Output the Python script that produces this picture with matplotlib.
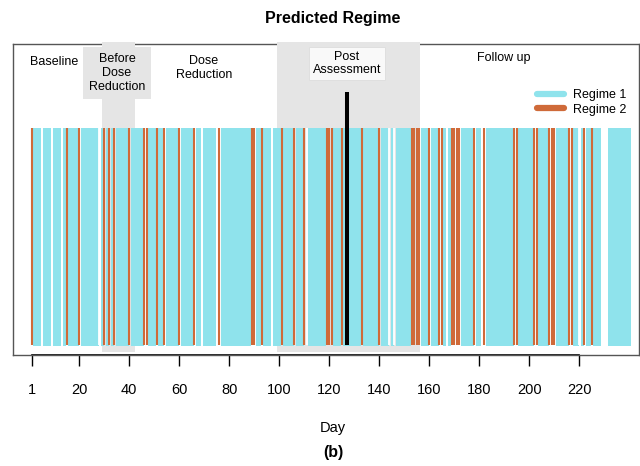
import numpy as np
import matplotlib
matplotlib.use('Agg')
import matplotlib.pyplot as plt
from matplotlib.lines import Line2D

# days 1..240, regime 1 by default
n_days = 240
regime2_days = [1, 15, 20, 30, 32, 34, 40, 46, 47, 51, 54, 60, 66, 76, 89, 90, 93,
                101, 106, 110, 119, 120, 121, 125, 133, 140, 153, 154, 155, 156,
                160, 164, 165, 169, 170, 171, 172, 178, 182, 194, 195, 202, 203,
                208, 209, 210, 216, 217, 222, 225]
missing_days = [5, 9, 13, 28, 69, 75, 97, 111, 144, 146, 167, 181, 220, 229, 230, 231]
assessment_day = 127

phase_names = ['Baseline', 'Before\nDose\nReduction', 'Dose\nReduction',
               'Post\nAssessment', 'Follow up']
shaded_phases = [(29.1, 42.3), (99.1, 156.3)]
tick_days = [1] + list(range(20, 221, 20))

c1 = '#8FE3EC'
c2 = '#CF6A39'
shade = '#E5E5E5'

plt.rcParams['font.family'] = ['Liberation Sans', 'DejaVu Sans']

def main():
    days = np.arange(1, n_days + 1)
    r1 = [d for d in days if d not in regime2_days and d not in missing_days]
    r2 = [d for d in days if d in regime2_days and d not in missing_days]

    fig = plt.figure(figsize=(6.4, 4.66), dpi=100)
    ax = fig.add_axes([12.7/640, 1 - 355/466, 626.3/640, 311/466])
    ax.set_xlim(-6.6, 1 + (639 - 31.7) / 2.5)
    ax.set_ylim(0, 1)

    for a, b in shaded_phases:
        ax.axvspan(a, b, ymin=0.0096, ymax=1.006, color=shade, lw=0, clip_on=False, zorder=3)

    ax.vlines(r1, 0.032, 0.730, colors=c1, linewidth=2.0, capstyle='butt',
              antialiased=False, zorder=4)
    ax.vlines(r2, 0.032, 0.730, colors=c2, linewidth=1.5, capstyle='butt', zorder=4.2)
    ax.vlines(missing_days, 0.032, 0.730, colors='white', linewidth=1.3, capstyle='butt', zorder=4.1)
    ax.vlines(assessment_day, 0.032, 0.846, colors='black', linewidth=2.9, zorder=5)

    # phase labels
    ax.text(10.1, 0.943, phase_names[0], ha='center', va='center', fontsize=9, zorder=6)
    ax.text(35.1, 0.907, phase_names[1], ha='center', va='center', fontsize=9, zorder=6,
            linespacing=1.25, bbox=dict(boxstyle='square,pad=0.45', fc=shade, ec='none'))
    ax.text(69.9, 0.924, phase_names[2], ha='center', va='center', fontsize=9, zorder=6,
            linespacing=1.2)
    ax.text(127.1, 0.937, phase_names[3], ha='center', va='center', fontsize=9, zorder=6,
            linespacing=1.2, bbox=dict(boxstyle='square,pad=0.3', fc='#F9F9F9', ec='#DDDDDD', lw=0.6))
    ax.text(189.9, 0.955, phase_names[4], ha='center', va='center', fontsize=9, zorder=6)

    handles = [Line2D([], [], color=c1, lw=4.5, solid_capstyle='round'),
               Line2D([], [], color=c2, lw=4.5, solid_capstyle='round')]
    ax.legend(handles, ['Regime 1', 'Regime 2'], loc='upper left', frameon=False,
              bbox_to_anchor=(0.837, 0.855), borderaxespad=0, borderpad=0,
              handlelength=2.2, handletextpad=0.65, labelspacing=0.2, fontsize=9)

    for s in ax.spines.values():
        s.set_color('#555555')
        s.set_linewidth(1)
        s.set_zorder(2)
    ax.plot([1, 220], [0, 0], color='black', lw=1.2, clip_on=False, zorder=2)

    ax.set_yticks([])
    ax.set_xticks(tick_days)
    ax.set_xticklabels([str(t) for t in tick_days], fontsize=10.5)
    ax.tick_params(axis='x', length=8, width=1, pad=12, color='black')

    fig.text(333/640, 1 - 18/466, 'Predicted Regime', ha='center', va='center',
             fontsize=11.5, fontweight='bold')
    fig.text(333/640, 1 - 428/466, 'Day', ha='center', va='center', fontsize=10.5)
    fig.text(333/640, 1 - 452/466, '(b)', ha='center', va='center', fontsize=11.5,
             fontweight='bold')

    fig.savefig('out.png', dpi=100)

if __name__ == '__main__':
    main()
